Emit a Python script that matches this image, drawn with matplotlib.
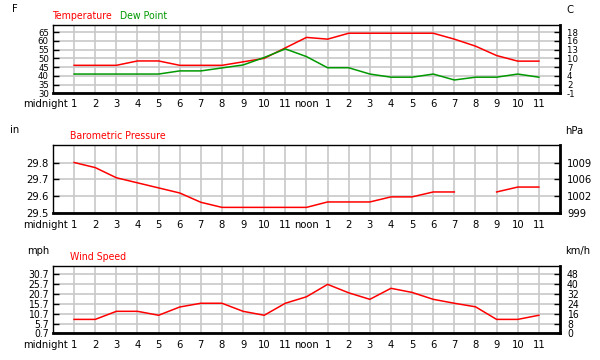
import numpy as np
import matplotlib
matplotlib.use('Agg')
import matplotlib.pyplot as plt
import matplotlib.transforms as mtransforms

# ===== data =====
hours = list(range(1, 24))
hour_labels = ['', '1', '2', '3', '4', '5', '6', '7', '8', '9', '10', '11',
               'noon', '1', '2', '3', '4', '5', '6', '7', '8', '9', '10', '11']

temperature = [46, 46, 46, 48.5, 48.5, 46, 46, 46, 48, 50, 56, 62,
               61, 64.4, 64.4, 64.4, 64.4, 64.4, 61, 57, 51.6, 48.4, 48.4]
dew_point = [41, 41, 41, 41, 41, 42.8, 42.8, 44.5, 46.2, 50.5, 55.4, 51,
             44.6, 44.6, 41, 39.2, 39.2, 41, 37.6, 39.2, 39.2, 41, 39.2]
pressure = [29.80, 29.77, 29.71, 29.68, 29.65, 29.62, 29.565, 29.535, 29.535, 29.535, 29.535, 29.535,
            29.567, 29.567, 29.567, 29.597, 29.597, 29.626, 29.626, np.nan, 29.626, 29.655, 29.655]
wind = [7.8, 7.8, 11.9, 11.9, 9.9, 14.1, 16, 16, 11.9, 9.9, 16, 19.3,
        25.6, 21.3, 18, 23.6, 21.5, 18, 16, 14.2, 7.8, 7.8, 9.9]

temp_ticks = [30, 35, 40, 45, 50, 55, 60, 65]
temp_c_labels = ['-1', '2', '4', '7', '10', '13', '16', '18']
press_ticks = [29.5, 29.6, 29.7, 29.8]
press_hpa_labels = ['999', '1002', '1006', '1009']
wind_ticks = [0.7, 5.7, 10.7, 15.7, 20.7, 25.7, 30.7]
wind_kmh_labels = ['0', '8', '16', '24', '32', '40', '48']

# ===== style =====
plt.rcParams['font.family'] = ['DejaVu Sans']
plt.rcParams['font.stretch'] = 'condensed'
fs = 8
tfs = 7.6  # series titles
red = '#ff0000'
green = '#009900'
grid_col = '#c8c8c8'

fig = plt.figure(figsize=(6, 3.6), dpi=100)


def setup_axes(ax, ylim, yticks, right_labels, yfs):
    ax.set_xlim(0, 24)
    ax.set_ylim(*ylim)
    ax.set_xticks(range(24))
    ax.set_xticklabels(hour_labels, fontsize=fs)
    ax.set_yticks(yticks)
    ax.set_yticklabels(['%g' % t for t in yticks], fontsize=yfs)
    ax.grid(True, color=grid_col, lw=1.2)
    ax.set_axisbelow(True)
    ax.tick_params(axis='x', length=0, pad=4.5)
    ax.tick_params(axis='y', direction='in', length=4, width=1, pad=3)
    for side in ['left', 'top']:
        ax.spines[side].set_linewidth(1.0)
    for side in ['right', 'bottom']:
        ax.spines[side].set_linewidth(2.0)
    # "midnight" sits just left of the "1" label
    trans = mtransforms.blended_transform_factory(ax.transData, ax.transAxes)
    off = mtransforms.ScaledTranslation(0, -4.5 / 72, fig.dpi_scale_trans)
    ax.text(0.72, 0, 'midnight', transform=trans + off, fontsize=fs, ha='right', va='top')
    ax2 = ax.twinx()
    ax2.set_ylim(*ylim)
    ax2.set_yticks(yticks)
    ax2.set_yticklabels(right_labels, fontsize=yfs)
    ax2.tick_params(axis='y', direction='in', length=4, width=1, pad=5)
    ax2.tick_params(axis='x', length=0)
    for s in ax2.spines.values():
        s.set_visible(False)
    return ax2


# temperature / dew point
ax1 = fig.add_axes([0.0883, 0.741, 0.845, 0.190])
setup_axes(ax1, (30, 69.2), temp_ticks, temp_c_labels, 6.8)
ax1.plot(hours, temperature, color=red, lw=1.1)
ax1.plot(hours, dew_point, color=green, lw=1.1)
fig.text(12 / 600, 1 - 9 / 360, 'F', fontsize=fs, va='center')
fig.text(566 / 600, 1 - 10 / 360, 'C', fontsize=fs, va='center')
fig.text(52 / 600, 1 - 16 / 360, 'Temperature', fontsize=tfs, color=red, va='center')
fig.text(120 / 600, 1 - 16 / 360, 'Dew Point', fontsize=tfs, color=green, va='center')

# barometric pressure
ax2 = fig.add_axes([0.0883, 0.4075, 0.845, 0.19])
setup_axes(ax2, (29.5, 29.904), press_ticks, press_hpa_labels, fs)
ax2.plot(hours, pressure, color=red, lw=1.1)
fig.text(10 / 600, 1 - 130 / 360, 'in', fontsize=fs, va='center')
fig.text(565 / 600, 1 - 131 / 360, 'hPa', fontsize=fs, va='center')
fig.text(70 / 600, 1 - 136 / 360, 'Barometric Pressure', fontsize=tfs, color=red, va='center')

# wind speed
ax3 = fig.add_axes([0.0883, 0.074, 0.845, 0.188])
setup_axes(ax3, (0.7, 35.1), wind_ticks, wind_kmh_labels, 7.5)
ax3.plot(hours, wind, color=red, lw=1.1)
fig.text(27 / 600, 1 - 251 / 360, 'mph', fontsize=fs, va='center')
fig.text(565 / 600, 1 - 251 / 360, 'km/h', fontsize=fs, va='center')
fig.text(70 / 600, 1 - 257 / 360, 'Wind Speed', fontsize=tfs, color=red, va='center')

plt.savefig('out.png', dpi=100)
plt.close()
